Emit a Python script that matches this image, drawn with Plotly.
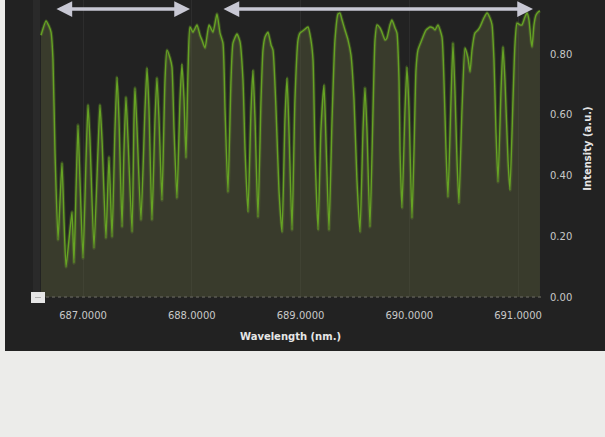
import plotly.graph_objects as go

# Wavelength (nm) and intensity (a.u.)
wavelength = [
    686.614, 686.660, 686.687, 686.706, 686.724, 686.742, 686.770, 686.789, 686.807, 686.825,
    686.844, 686.871, 686.899, 686.917, 686.936, 686.954, 686.972, 687.000, 687.028, 687.046,
    687.064, 687.101, 687.138, 687.156, 687.175, 687.211, 687.239, 687.267, 687.294, 687.313,
    687.331, 687.359, 687.377, 687.395, 687.414, 687.451, 687.469, 687.478, 687.497, 687.533,
    687.570, 687.589, 687.607, 687.634, 687.662, 687.680, 687.699, 687.726, 687.754, 687.772,
    687.800, 687.818, 687.837, 687.864, 687.892, 687.910, 687.929, 687.947, 687.966, 687.984,
    688.011, 688.048, 688.076, 688.094, 688.122, 688.159, 688.195, 688.232, 688.260, 688.287,
    688.306, 688.333, 688.361, 688.379, 688.416, 688.444, 688.471, 688.490, 688.517, 688.545,
    688.563, 688.582, 688.609, 688.637, 688.655, 688.674, 688.701, 688.729, 688.747, 688.775,
    688.802, 688.830, 688.857, 688.876, 688.894, 688.922, 688.949, 688.977, 688.995, 689.032,
    689.069, 689.096, 689.115, 689.133, 689.161, 689.188, 689.216, 689.234, 689.262, 689.290,
    689.317, 689.345, 689.363, 689.382, 689.409, 689.437, 689.464, 689.492, 689.519, 689.547,
    689.575, 689.593, 689.611, 689.639, 689.667, 689.685, 689.703, 689.731, 689.749, 689.777,
    689.795, 689.823, 689.841, 689.869, 689.887, 689.906, 689.915, 689.933, 689.961, 689.979,
    689.998, 690.025, 690.044, 690.062, 690.080, 690.108, 690.126, 690.154, 690.191, 690.218,
    690.237, 690.264, 690.301, 690.319, 690.338, 690.356, 690.384, 690.402, 690.420, 690.439,
    690.457, 690.485, 690.513, 690.540, 690.559, 690.577, 690.604, 690.632, 690.650, 690.687,
    690.715, 690.742, 690.761, 690.779, 690.797, 690.816, 690.844, 690.862, 690.880, 690.908,
    690.926, 690.954, 690.972, 690.991, 691.018, 691.037, 691.064, 691.083, 691.101, 691.119,
    691.129, 691.147, 691.165, 691.184, 691.202,
]
intensity = [
    0.862, 0.909, 0.892, 0.872, 0.780, 0.484, 0.188, 0.319, 0.441, 0.254,
    0.099, 0.188, 0.280, 0.112, 0.352, 0.566, 0.385, 0.128, 0.451, 0.632,
    0.517, 0.161, 0.484, 0.632, 0.517, 0.194, 0.461, 0.198, 0.550, 0.724,
    0.583, 0.231, 0.484, 0.658, 0.517, 0.214, 0.583, 0.688, 0.550, 0.254,
    0.616, 0.754, 0.616, 0.254, 0.583, 0.721, 0.583, 0.319, 0.714, 0.813,
    0.787, 0.757, 0.550, 0.326, 0.649, 0.767, 0.649, 0.458, 0.747, 0.889,
    0.872, 0.896, 0.862, 0.846, 0.820, 0.896, 0.872, 0.932, 0.869, 0.836,
    0.616, 0.346, 0.714, 0.836, 0.866, 0.840, 0.714, 0.484, 0.280, 0.616,
    0.747, 0.583, 0.263, 0.649, 0.813, 0.856, 0.872, 0.830, 0.813, 0.616,
    0.352, 0.214, 0.583, 0.721, 0.550, 0.221, 0.649, 0.846, 0.869, 0.879,
    0.889, 0.846, 0.780, 0.484, 0.221, 0.550, 0.698, 0.517, 0.221, 0.583,
    0.846, 0.932, 0.935, 0.912, 0.879, 0.846, 0.797, 0.649, 0.385, 0.214,
    0.550, 0.688, 0.550, 0.231, 0.616, 0.846, 0.896, 0.886, 0.872, 0.846,
    0.853, 0.896, 0.912, 0.886, 0.869, 0.714, 0.484, 0.293, 0.616, 0.757,
    0.616, 0.260, 0.484, 0.747, 0.813, 0.840, 0.856, 0.879, 0.889, 0.886,
    0.879, 0.896, 0.856, 0.714, 0.484, 0.329, 0.649, 0.836, 0.681, 0.451,
    0.309, 0.616, 0.820, 0.787, 0.741, 0.813, 0.869, 0.879, 0.889, 0.919,
    0.935, 0.919, 0.896, 0.780, 0.550, 0.379, 0.681, 0.823, 0.714, 0.451,
    0.352, 0.649, 0.830, 0.902, 0.896, 0.896, 0.922, 0.935, 0.912, 0.846,
    0.823, 0.896, 0.928, 0.938, 0.942,
]
x_ticks = [687, 688, 689, 690, 691]
y_ticks = [0.0, 0.2, 0.4, 0.6, 0.8]
# Wavelength spans marked by the double arrows above the spectrum
arrow_spans = [(686.742, 687.984), (688.278, 691.138)]
arrow_level = 0.948

PANEL = "#222222"
font_family = "DejaVu Sans"

fig = go.Figure()
# soft glow
fig.add_trace(go.Scatter(
    x=wavelength, y=intensity, mode="lines",
    line=dict(color="rgba(110,170,40,0.28)", width=3.5, shape="spline", smoothing=0.5),
    hoverinfo="skip", showlegend=False,
))
fig.add_trace(go.Scatter(
    x=wavelength, y=intensity, mode="lines",
    line=dict(color="#66a324", width=1.4, shape="spline", smoothing=0.5),
    fill="tozeroy", fillcolor="rgba(90,95,60,0.42)",
    showlegend=False,
))

W, H = 605, 437
L, R, T, B = 40, 64, 0, 140
pw, ph = W - L - R, H - T - B


def px_x(p):
    return (p - L) / pw


def px_y(p):
    return (H - B - p) / ph


shapes = [
    dict(type="rect", xref="paper", yref="paper", layer="below",
         x0=px_x(5), x1=px_x(606), y0=px_y(351), y1=px_y(-2),
         fillcolor=PANEL, line=dict(width=0)),
    dict(type="rect", xref="paper", yref="paper", layer="below",
         x0=px_x(33), x1=px_x(40), y0=0, y1=1,
         fillcolor="#2a2a2a", line=dict(width=0)),
    dict(type="line", xref="paper", yref="paper",
         x0=0, x1=1, y0=0, y1=0,
         line=dict(color="#5a5a52", width=1.5, dash="dot")),
    dict(type="rect", xref="paper", yref="paper",
         x0=px_x(31), x1=px_x(45), y0=px_y(303), y1=px_y(292),
         fillcolor="#e6e6e6", line=dict(width=0)),
    dict(type="line", xref="paper", yref="paper",
         x0=px_x(35), x1=px_x(41), y0=px_y(297.5), y1=px_y(297.5),
         line=dict(color="#b0b0b0", width=1)),
]

annotations = []
for a, b in arrow_spans:
    annotations.append(dict(
        x=b, y=arrow_level, ax=a, ay=arrow_level,
        xref="x", yref="y", axref="x", ayref="y",
        text="", showarrow=True, arrowside="end+start",
        arrowhead=2, arrowsize=0.9, arrowwidth=3.5,
        arrowcolor="#c8c8d4", standoff=0, startstandoff=0,
    ))

fig.update_layout(
    width=W, height=H,
    margin=dict(l=L, r=R, t=T, b=B),
    paper_bgcolor="#ececea",
    plot_bgcolor="#242424",
    font=dict(family=font_family, color="#cccccc", size=10),
    shapes=shapes,
    annotations=annotations,
    xaxis=dict(
        range=[686.6046, 691.2115],
        tickvals=x_ticks, tickformat=".4f",
        ticks="", ticklabelstandoff=11,
        tickfont=dict(size=10, color="#c8c8c8"),
        showgrid=True, gridcolor="rgba(255,255,255,0.05)", gridwidth=1,
        zeroline=False, showline=False,
        title=dict(text="<b>Wavelength (nm.)</b>", font=dict(size=10, color="#e6e6e6"), standoff=12),
    ),
    yaxis=dict(
        range=[0, 0.978], side="right",
        tickvals=y_ticks, tickformat=".2f",
        ticks="", ticklabelstandoff=8,
        tickfont=dict(size=10, color="#c8c8c8"),
        showgrid=False, zeroline=False, showline=False,
        title=dict(text="<b>Intensity (a.u.)</b>", font=dict(size=10, color="#e6e6e6"), standoff=12),
    ),
)

fig.write_html(
    "out.html",
    config={"displayModeBar": False},
    post_script="document.body.style.margin='0';document.body.style.overflow='hidden';",
)
